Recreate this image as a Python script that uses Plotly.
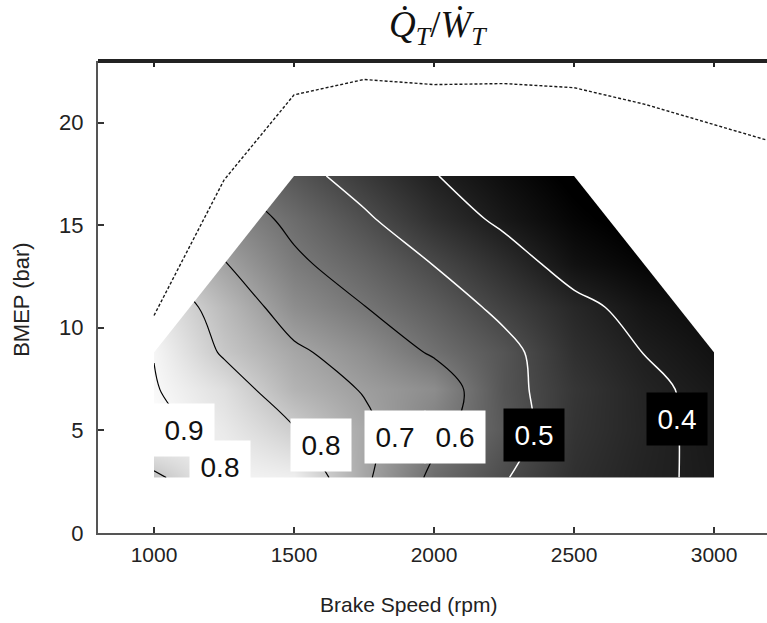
import plotly.graph_objects as go

# Operating-point grid: engine speed (rpm) x brake mean effective pressure (bar)
speed_rpm = [1000, 1250, 1500, 1750, 2000, 2250, 2500, 2750, 3000]
bmep_bar = [2.7, 5.0, 7.0, 8.8, 11.0, 13.1, 15.3, 17.4]

# Heat rejection / brake work ratio at each grid node (rows follow bmep_bar)
heat_ratio = [
    [0.780, 0.895, 0.884, 0.716, 0.580, 0.505, 0.440, 0.410, 0.390],
    [0.920, 0.870, 0.805, 0.720, 0.625, 0.535, 0.450, 0.415, 0.385],
    [0.905, 0.845, 0.745, 0.695, 0.655, 0.525, 0.455, 0.412, 0.385],
    [0.898, 0.790, 0.715, 0.660, 0.590, 0.525, 0.440, 0.399, 0.370],
    [0.870, 0.760, 0.657, 0.602, 0.545, 0.480, 0.420, 0.375, 0.350],
    [0.800, 0.705, 0.615, 0.560, 0.498, 0.435, 0.370, 0.340, 0.320],
    [0.740, 0.650, 0.580, 0.512, 0.440, 0.385, 0.340, 0.310, 0.290],
    [0.680, 0.600, 0.530, 0.465, 0.403, 0.360, 0.320, 0.290, 0.270],
]

# Boundary of the tested region
env_speed = [1000, 1000, 1500, 2500, 3000, 3000]
env_bmep = [2.7, 8.8, 17.4, 17.4, 8.8, 2.7]

# Full-load (maximum BMEP) curve
wot_speed = [1000, 1250, 1500, 1750, 2000, 2250, 2500, 2750, 3000, 3250]
wot_bmep = [10.6, 17.2, 21.35, 22.1, 21.85, 21.9, 21.7, 20.9, 19.9, 18.9]

# Contour levels and their in-line labels
dark_levels = [0.6, 0.7, 0.8, 0.9]
light_levels = [0.4, 0.5]
label_text = ["0.9", "0.8", "0.8", "0.7", "0.6", "0.5", "0.4"]
label_value = [0.9, 0.8, 0.8, 0.7, 0.6, 0.5, 0.4]
label_pos = [(1107, 5.0), (1236, 3.2), (1596, 4.28), (1861, 4.67),
             (2075, 4.67), (2357, 4.77), (2868, 5.55)]

fig = go.Figure()

# Smoothly shaded field with dark iso-lines
fig.add_trace(go.Contour(
    x=speed_rpm, y=bmep_bar, z=heat_ratio,
    colorscale=[[0, "black"], [1, "white"]], zmin=0.33, zmax=0.92,
    contours=dict(coloring="heatmap", start=min(dark_levels),
                  end=max(dark_levels) + 1e-4, size=0.1),
    line=dict(color="black", width=1.2),
    showscale=False, hoverinfo="skip",
))
# White iso-lines over the dark part of the field
fig.add_trace(go.Contour(
    x=speed_rpm, y=bmep_bar, z=heat_ratio,
    contours=dict(coloring="none", start=min(light_levels),
                  end=max(light_levels) + 1e-4, size=0.1),
    line=dict(color="white", width=1.5),
    showscale=False, hoverinfo="skip",
))

# Blank out the corners of the grid that lie outside the tested region
pad_s, pad_b = 15, 0.4
top = max(env_bmep)
mask_left_x = [env_speed[1], env_speed[2], env_speed[2], env_speed[1] - pad_s, env_speed[1] - pad_s, env_speed[1]]
mask_left_y = [env_bmep[1], env_bmep[2], top + pad_b, top + pad_b, env_bmep[1], env_bmep[1]]
mask_right_x = [env_speed[3], env_speed[4], env_speed[4] + pad_s, env_speed[4] + pad_s, env_speed[3], env_speed[3]]
mask_right_y = [env_bmep[3], env_bmep[4], env_bmep[4], top + pad_b, top + pad_b, env_bmep[3]]
for mx, my in ((mask_left_x, mask_left_y), (mask_right_x, mask_right_y)):
    fig.add_trace(go.Scatter(x=mx, y=my, mode="lines", fill="toself",
                             fillcolor="white", line=dict(width=0, color="white"),
                             hoverinfo="skip", showlegend=False))

# Full-load curve
fig.add_trace(go.Scatter(
    x=wot_speed, y=wot_bmep, mode="lines",
    line=dict(color="#1a1a1a", width=1.4, dash="3px,2px"),
    hoverinfo="skip", showlegend=False,
))

# Boxed contour labels: white boxes on the light side, black on the dark side
for txt, val, (px, py) in zip(label_text, label_value, label_pos):
    dark = val in light_levels
    fig.add_annotation(
        x=px, y=py, xref="x", yref="y", text=txt, showarrow=False,
        width=58, height=50, align="center", valign="middle",
        xanchor="center", yanchor="middle",
        bgcolor="black" if dark else "white",
        font=dict(family="Liberation Sans, Arial, sans-serif", size=28,
                  color="white" if dark else "#111111"),
    )

font_main = "Liberation Sans, Arial, sans-serif"

fig.add_annotation(
    x=0.508, y=1.07, xref="paper", yref="paper", showarrow=False,
    xanchor="center", yanchor="middle",
    text="<i>Q\u0307</i><sub><i>T</i></sub>/<i>W\u0307</i><sub><i>T</i></sub>",
    font=dict(family="Liberation Serif, DejaVu Serif, serif", size=37, color="#111111"),
)
fig.add_annotation(
    x=0.4634, y=-0.1525, xref="paper", yref="paper", showarrow=False,
    xanchor="center", yanchor="middle",
    text="Brake Speed (rpm)", font=dict(family=font_main, size=21, color="#222222"),
)
fig.add_annotation(
    x=-0.1136, y=0.494, xref="paper", yref="paper", showarrow=False,
    xanchor="center", yanchor="middle",
    text="BMEP (bar)", textangle=-90,
    font=dict(family=font_main, size=22, color="#222222"),
)

# Heavy frame line along the top of the plot area
fig.add_shape(type="line", xref="paper", yref="paper", x0=0, x1=1, y0=1, y1=1,
              line=dict(color="#222222", width=4))

tick_speed = [1000, 1500, 2000, 2500, 3000]
tick_bmep = [0, 5, 10, 15, 20]

fig.update_layout(
    width=767, height=623,
    margin=dict(l=98, r=0, t=61, b=90),
    paper_bgcolor="white", plot_bgcolor="white",
    showlegend=False,
    xaxis=dict(
        range=[800, 3189], tickvals=tick_speed, ticktext=[str(v) for v in tick_speed],
        ticks="inside", ticklen=6, tickwidth=1.5, tickcolor="#333333",
        showline=True, linewidth=2, linecolor="#555555",
        showgrid=False, zeroline=False, ticklabelstandoff=2,
        tickfont=dict(family=font_main, size=21, color="#222222"),
    ),
    xaxis2=dict(
        overlaying="x", side="top", matches="x", range=[800, 3189],
        tickvals=tick_speed, showticklabels=False,
        ticks="inside", ticklen=6, tickwidth=1.5, tickcolor="#222222",
        showline=False, showgrid=False, zeroline=False,
    ),
    yaxis=dict(
        range=[0, 23], tickvals=tick_bmep, ticktext=[str(v) for v in tick_bmep],
        ticks="inside", ticklen=6, tickwidth=1.5, tickcolor="#333333",
        showline=True, linewidth=2, linecolor="#555555",
        showgrid=False, zeroline=False, ticklabelstandoff=8,
        tickfont=dict(family=font_main, size=22, color="#222222"),
    ),
)
# Invisible trace so the top axis is rendered
fig.add_trace(go.Scatter(x=[None], y=[None], xaxis="x2", hoverinfo="skip", showlegend=False))

fig.write_html("out.html")
